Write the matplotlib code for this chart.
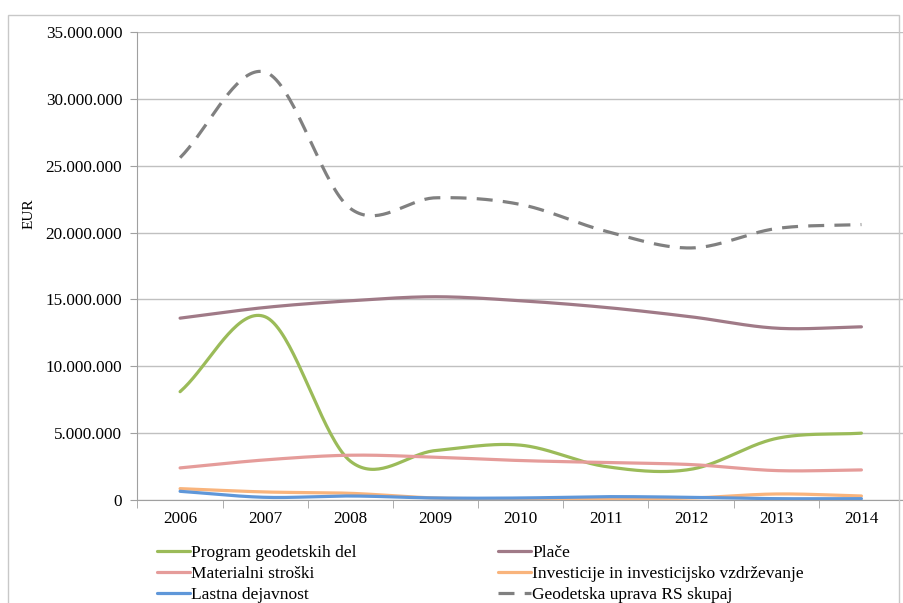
# -*- coding: utf-8 -*-
import matplotlib.pyplot as plt
import matplotlib.ticker as mticker
from matplotlib.patches import Rectangle
import numpy as np

plt.rcParams['font.family'] = ['Liberation Serif', 'DejaVu Serif']

years = ['2006', '2007', '2008', '2009', '2010', '2011', '2012', '2013', '2014']

program = [8.1, 13.7, 2.9, 3.7, 4.1, 2.5, 2.3, 4.6, 5.0]
place = [13.6, 14.4, 14.9, 15.2, 14.9, 14.4, 13.7, 12.85, 12.95]
material = [2.4, 3.0, 3.35, 3.2, 2.95, 2.8, 2.65, 2.2, 2.25]
investicije = [0.85, 0.6, 0.5, 0.15, 0.1, 0.1, 0.15, 0.45, 0.3]
lastna = [0.65, 0.2, 0.3, 0.15, 0.15, 0.25, 0.2, 0.1, 0.1]
skupaj = [25.6, 32.0, 21.8, 22.6, 22.1, 20.1, 18.85, 20.3, 20.6]


def smooth(y, n=40):
    # Catmull-Rom through the yearly points, like a smoothed office line
    y = np.asarray(y, dtype=float) * 1e6
    x = np.arange(len(y), dtype=float)
    p = np.concatenate([[2 * y[0] - y[1]], y, [2 * y[-1] - y[-2]]])
    xs, ys = [], []
    t = np.linspace(0, 1, n)
    for i in range(len(y) - 1):
        p0, p1, p2, p3 = p[i], p[i + 1], p[i + 2], p[i + 3]
        seg = 0.5 * (2 * p1 + (-p0 + p2) * t + (2 * p0 - 5 * p1 + 4 * p2 - p3) * t ** 2
                     + (-p0 + 3 * p1 - 3 * p2 + p3) * t ** 3)
        xs.append(x[i] + t)
        ys.append(seg)
    return np.concatenate(xs), np.concatenate(ys)


fig = plt.figure(figsize=(9.04, 6.03), dpi=100)
fig.patches.append(Rectangle((8 / 904, -0.01), 891 / 904, 1 - 15 / 603 + 0.01,
                             transform=fig.transFigure, fill=False,
                             edgecolor='#c8c8c8', linewidth=1))
ax = fig.add_axes([137.5 / 904, 1 - 500 / 603, 766.5 / 904, 468 / 603])

series = [
    (program, 'Program geodetskih del', '#9bbb59', '-'),
    (place, 'Plače', '#a07a87', '-'),
    (material, 'Materialni stroški', '#e59c9a', '-'),
    (investicije, 'Investicije in investicijsko vzdrževanje', '#f9b47c', '-'),
    (lastna, 'Lastna dejavnost', '#5f97d9', '-'),
    (skupaj, 'Geodetska uprava RS skupaj', '#808080', '--'),
]
lines = {}
for vals, name, col, ls in series:
    xs, ys = smooth(vals)
    ln, = ax.plot(xs, ys, color=col, linestyle=ls, linewidth=2.3,
                  solid_capstyle='round', label=name)
    if ls == '--':
        ln.set_dashes((5, 3.2))
    lines[name] = ln

ax.set_xlim(-0.5, 8.5)
ax.set_ylim(0, 35e6)
ax.set_yticks(np.arange(0, 35e6 + 1, 5e6))
ax.yaxis.set_major_formatter(mticker.FuncFormatter(
    lambda v, p: '{:,.0f}'.format(v).replace(',', '.')))
ax.set_xticks(range(len(years)))
ax.set_xticklabels(years)
ax.set_xticks(np.arange(-0.5, 9, 1), minor=True)
ax.tick_params(axis='x', which='major', length=0, pad=8, labelsize=12.3)
ax.tick_params(axis='x', which='minor', length=6, color='#a0a0a0')
ax.tick_params(axis='y', length=5, color='#a0a0a0', labelsize=12.3, pad=6)
ax.grid(axis='y', color='#c0c0c0', linewidth=1)
ax.set_axisbelow(True)
for s in ['top', 'right']:
    ax.spines[s].set_visible(False)
for s in ['left', 'bottom']:
    ax.spines[s].set_color('#a0a0a0')
ax.set_ylabel('EUR', fontsize=11)
ax.yaxis.set_label_coords(-0.133, 0.611)

order = ['Program geodetskih del', 'Materialni stroški', 'Lastna dejavnost',
         'Plače', 'Investicije in investicijsko vzdrževanje', 'Geodetska uprava RS skupaj']
fig.legend([lines[k] for k in order], order, ncol=2, loc='upper left',
           bbox_to_anchor=(148 / 904, 1 - 536 / 603), frameon=False,
           fontsize=12.5, handlelength=1.9, handletextpad=0.1,
           labelspacing=0.28, columnspacing=8.1, borderpad=0)

fig.savefig('out.png', dpi=100)
